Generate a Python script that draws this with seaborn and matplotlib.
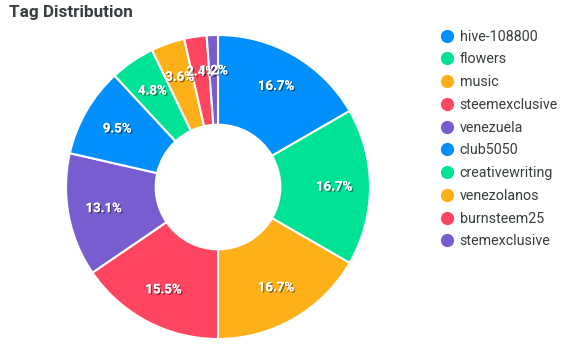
import matplotlib
matplotlib.use("Agg")
import matplotlib.pyplot as plt
import matplotlib.patheffects as pe
from matplotlib.lines import Line2D
import seaborn as sns

# Tag counts (percentages are count / total)
tags = ["hive-108800", "flowers", "music", "steemexclusive", "venezuela",
        "club5050", "creativewriting", "venezolanos", "burnsteem25", "stemexclusive"]
counts = [14, 14, 14, 13, 11, 8, 4, 3, 2, 1]

base = ["#008FFB", "#00E396", "#FEB019", "#FF4560", "#775DD0"]
colors = sns.color_palette(base * 2)

sns.set_theme(style="white")
plt.rcParams["font.family"] = ["Roboto", "DejaVu Sans"]

fig = plt.figure(figsize=(5.82, 3.52), dpi=100)
W, H = 582, 352
cx, cy, r = 218, 187, 152
ax = fig.add_axes([(cx - r) / W, (H - cy - r) / H, 2 * r / W, 2 * r / H])

wedges, texts, autotexts = ax.pie(
    counts, colors=colors, startangle=90, counterclock=False,
    autopct="%1.1f%%", pctdistance=0.765,
    wedgeprops=dict(width=0.59, edgecolor="white", linewidth=1.5),
    textprops=dict(color="white", fontsize=9.5, fontweight="bold"),
)
for t in autotexts:
    t.set_path_effects([pe.withSimplePatchShadow(offset=(1, -1), shadow_rgbFace="black", alpha=0.45),
                        pe.Normal()])
ax.set_aspect("equal")
ax.set_xlim(-1, 1)
ax.set_ylim(-1, 1)

fig.text(9 / W, 1 - 13 / H, "Tag Distribution", fontsize=12.3, fontweight="bold",
         color="#373d3f", va="center", ha="left")

handles = [Line2D([0], [0], marker="o", linestyle="", markersize=8.5,
                  markerfacecolor=c, markeredgecolor=c) for c in colors]
fig.legend(handles, tags, loc="upper left", bbox_to_anchor=(434 / W, 1 - 24 / H),
           frameon=False, fontsize=10.3, labelcolor="#373d3f", handletextpad=0.4,
           labelspacing=0.61, handlelength=1.0, borderaxespad=0)

fig.savefig("out.png", dpi=100)
